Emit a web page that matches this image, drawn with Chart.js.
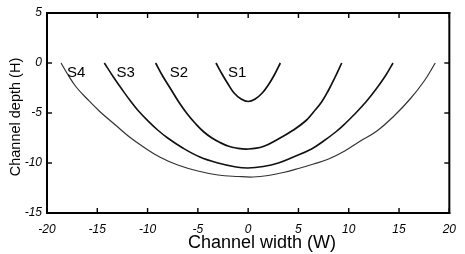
<!DOCTYPE html>
<html><head><meta charset="utf-8">
<script src="https://cdn.jsdelivr.net/npm/chart.js@4/dist/chart.umd.min.js"></script>
<style>html,body{margin:0;padding:0;background:#fff}#wrap{width:465px;height:254px}</style>
</head><body><div id="wrap"><canvas id="c" width="465" height="254"></canvas></div>
<script>
const s1x = [-3.2,-2.6,-2.0,-1.4,-0.7,0,0.7,1.4,2.0,2.6,3.2];
const s1y = [0,-1.1,-2.1,-3.0,-3.6,-3.85,-3.6,-3.0,-2.2,-1.2,0];
const s2x = [-9.2,-8.5,-7.7,-6.9,-6.05,-5.2,-4.4,-3.6,-2.8,-2.0,-1.2,0,1.5,3.0,4.5,5.7,6.5,7.3,8.0,8.6,9.3];
const s2y = [0,-1.3,-2.6,-3.9,-5.1,-6.1,-6.9,-7.5,-7.95,-8.3,-8.5,-8.6,-8.35,-7.6,-6.7,-5.8,-4.9,-3.9,-2.7,-1.5,0];
const s3x = [-14.3,-13.4,-12.5,-11.7,-10.9,-9.95,-9.0,-8.0,-6.5,-4.8,-3.0,-1.2,0,1.5,3.0,4.5,6.3,7.5,8.7,9.6,10.5,11.7,12.8,13.7,14.4];
const s3y = [0,-1.4,-2.7,-3.8,-4.8,-5.8,-6.7,-7.5,-8.5,-9.4,-10.0,-10.4,-10.5,-10.35,-10.0,-9.4,-8.6,-7.8,-6.9,-6.1,-5.2,-3.9,-2.5,-1.2,0];
const s4x = [-18.6,-17.9,-17.1,-16.0,-14.7,-13.2,-11.8,-10.4,-8.8,-7.0,-5.0,-3.0,-1.0,0.5,2.0,3.5,5.0,6.5,8.0,9.6,11.0,12.8,14.5,16.1,17.5,18.6];
const s4y = [0,-1.2,-2.4,-3.6,-4.9,-6.2,-7.4,-8.4,-9.4,-10.2,-10.8,-11.2,-11.35,-11.4,-11.25,-10.95,-10.55,-10.1,-9.6,-8.8,-7.9,-6.8,-5.3,-3.6,-1.8,0];
const seriesNames = ['S1','S2','S3','S4'];
const labelX = [-2.0,-7.8,-13.1,-18.0];
const labelY = [-0.95,-0.95,-0.95,-0.95];
const xTicks = [-20,-15,-10,-5,0,5,10,15,20];
const yTicks = [-15,-10,-5,0,5];
const xTitle = 'Channel width (W)';
const yTitle = 'Channel depth (H)';

const FONT = '"Liberation Sans", Arial, sans-serif';
const pts = (xs, ys) => xs.map((x, i) => ({x, y: ys[i]}));
const mk = (xs, ys, color, w) => ({
  data: pts(xs, ys), borderColor: color, borderWidth: w, pointRadius: 0,
  showLine: true, fill: false, tension: 0.4
});

const framePlugin = {
  id: 'frame',
  afterDraw(chart) {
    const ctx = chart.ctx;
    const x = chart.scales.x, y = chart.scales.y;
    const L0 = x.getPixelForValue(x.min), R0 = x.getPixelForValue(x.max);
    const T0 = y.getPixelForValue(y.max), B0 = y.getPixelForValue(y.min);
    ctx.save();
    ctx.fillStyle = 'black';
    const w = 2, tw = 1.4, TL = 5;
    ctx.fillRect(L0 - w / 2, T0 - w / 2, R0 - L0 + w, w);
    ctx.fillRect(L0 - w / 2, B0 - w / 2, R0 - L0 + w, w);
    ctx.fillRect(L0 - w / 2, T0 - w / 2, w, B0 - T0 + w);
    ctx.fillRect(R0 - w / 2, T0 - w / 2, w, B0 - T0 + w);
    xTicks.forEach(v => {
      const px = x.getPixelForValue(v);
      ctx.fillRect(px - tw / 2, B0 - TL, tw, TL);
      ctx.fillRect(px - tw / 2, T0, tw, TL);
    });
    yTicks.forEach(v => {
      const py = y.getPixelForValue(v);
      ctx.fillRect(L0, py - tw / 2, TL, tw);
      ctx.fillRect(R0 - TL, py - tw / 2, TL, tw);
    });
    ctx.font = '15px ' + FONT;
    ctx.textBaseline = 'middle';
    ctx.textAlign = 'left';
    seriesNames.forEach((n, i) => {
      ctx.fillText(n, x.getPixelForValue(labelX[i]), y.getPixelForValue(labelY[i]));
    });
    ctx.textAlign = 'center';
    ctx.font = '18px ' + FONT;
    ctx.fillText(xTitle, 262, 243);
    ctx.translate(16, 117);
    ctx.rotate(-Math.PI / 2);
    ctx.font = '14.5px ' + FONT;
    ctx.fillText(yTitle, 0, 0);
    ctx.restore();
  }
};

new Chart(document.getElementById('c'), {
  type: 'scatter',
  data: { datasets: [
    mk(s1x, s1y, '#111', 1.7),
    mk(s2x, s2y, '#111', 1.7),
    mk(s3x, s3y, '#111', 1.6),
    mk(s4x, s4y, '#333', 1.2)
  ]},
  options: {
    responsive: false, animation: false,
    layout: { padding: { top: 13, right: 8, left: 0, bottom: 0 } },
    plugins: { legend: { display: false }, tooltip: { enabled: false } },
    scales: {
      x: {
        type: 'linear', min: -20, max: 20,
        afterBuildTicks: s => { s.ticks = xTicks.map(v => ({value: v})); },
        afterFit: s => { s.height = 41; },
        grid: { display: false, drawTicks: false },
        border: { display: true, color: 'black', width: 2 },
        ticks: { color: 'black', padding: 9, maxRotation: 0, autoSkip: false,
          font: { family: FONT, size: 12, style: 'italic' } },
        title: { display: false }
      },
      y: {
        type: 'linear', min: -15, max: 5,
        afterBuildTicks: s => { s.ticks = yTicks.map(v => ({value: v})); },
        afterFit: s => { s.width = 47; },
        grid: { display: false, drawTicks: false },
        border: { display: true, color: 'black', width: 2 },
        ticks: { color: 'black', padding: 5, autoSkip: false,
          font: { family: FONT, size: 12, style: 'italic' } },
        title: { display: false }
      }
    }
  },
  plugins: [framePlugin]
});
</script></body></html>
